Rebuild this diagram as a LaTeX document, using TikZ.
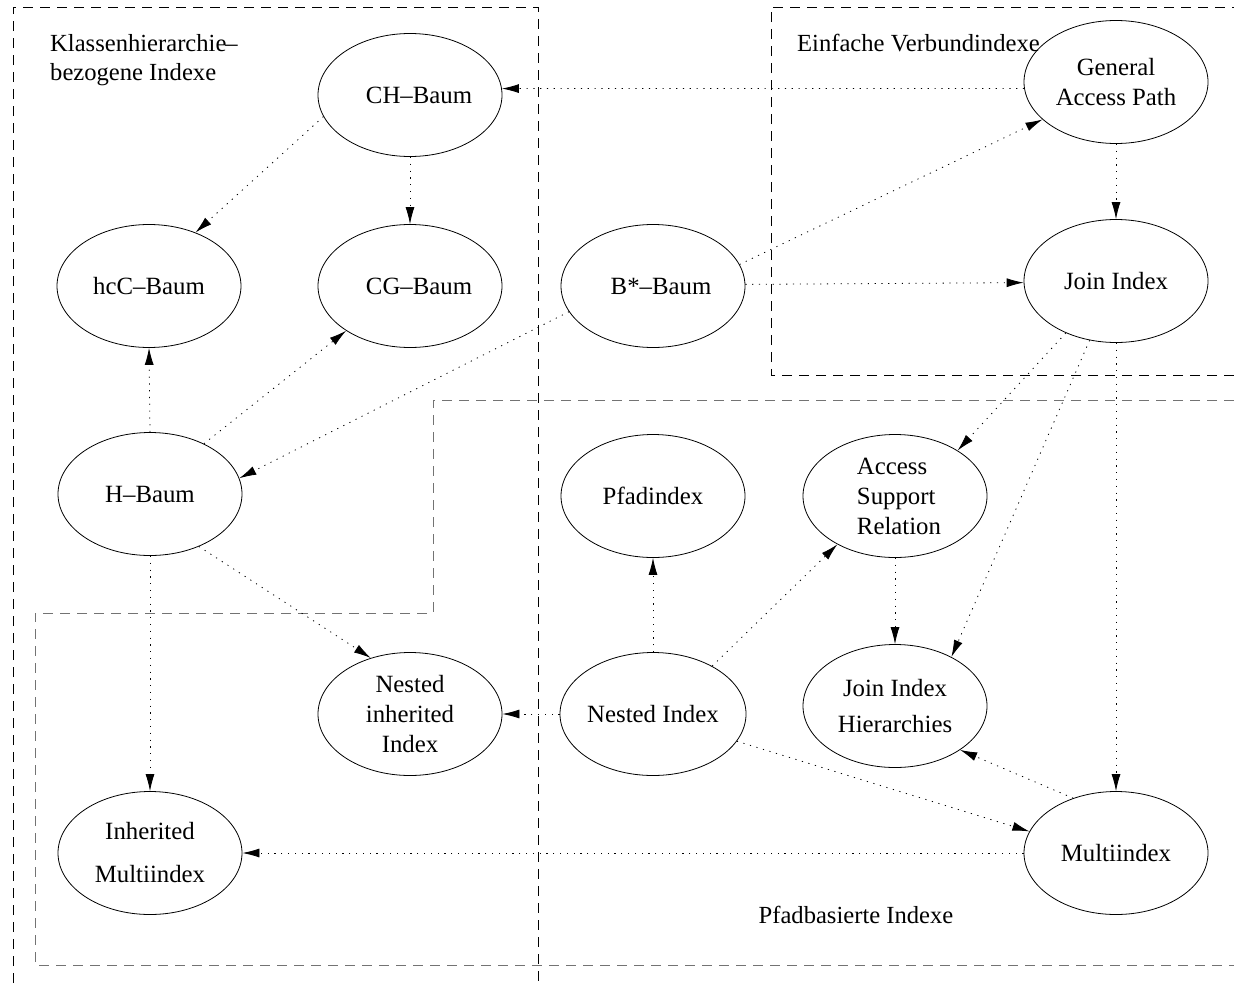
\documentclass[tikz,border=0pt]{standalone}
\usepackage{fontspec}
\setmainfont{Liberation Serif}
\usetikzlibrary{shapes.geometric,arrows.meta}
\begin{document}
\begin{tikzpicture}[x=1pt,y=-1pt,
  idx/.style={ellipse,draw,line width=0.8pt,minimum width=184pt,minimum height=123pt,
    inner sep=0pt,align=center,font=\fontsize{24.8}{30}\selectfont},
  rel/.style={line width=0.8pt,dash pattern=on 1.2pt off 5.6pt,
    -{Latex[length=17pt,width=9pt]}},
  region/.style={line width=0.8pt,dash pattern=on 10pt off 7pt},
  caption/.style={font=\fontsize{24.6}{29}\selectfont,inner sep=0pt,align=left}]
\useasboundingbox (0,0) rectangle (1234,983);

% index groups
\draw[region] (13,983) -- (13,7) -- (538,7) -- (538,983);
\draw[region] (1234,375) -- (771,375) -- (771,7) -- (1234,7);
\draw[region,black!55] (1234,400) -- (433,400) -- (433,613) -- (35,613) -- (35,965) -- (1234,965);

% group captions
\node[caption,anchor=west] (kcap) at (50,60) {Klassenhierarchie\kern-1pt–\\bezogene Indexe};
\node[caption,anchor=west] (vcap) at (797,43) {Einfache Verbundindexe};
\node[caption] (pcap) at (856,915) {Pfadbasierte Indexe};

% index structures
\node[idx] (ch)    at (410,95)  {\hspace*{18pt}CH–Baum};
\node[idx] (gap)   at (1116,82) {General\\Access Path};
\node[idx] (hcc)   at (149,286) {hcC–Baum};
\node[idx] (cg)    at (410,286) {\hspace*{18pt}CG–Baum};
\node[idx] (bstar) at (653,286) {\hspace*{16pt}B*–Baum};
\node[idx] (join)  at (1116,281) {Join Index};
\node[idx] (h)     at (150,494) {H–Baum};
\node[idx] (pfad)  at (653,496) {Pfadindex};
\node[idx,align=left] (asr) at (895,496) {\hspace*{8pt}Access\\\hspace*{8pt}Support\\\hspace*{8pt}Relation};
\node[idx] (nii)   at (410,714) {Nested\\inherited\\Index};
\node[idx] (ni)    at (653,714) {Nested Index};
\node[idx] (jih)   at (895,706) {Join Index\\[6pt]Hierarchies};
\node[idx] (im)    at (150,853) {Inherited\\[13pt]Multiindex};
\node[idx] (mi)    at (1116,853) {Multiindex};

% derivation relations
\draw[rel] (gap.184)   -- (ch.4);
\draw[rel] (ch.194)    -- (hcc.49);
\draw[rel] (ch.south)  -- (cg.north);
\draw[rel] (bstar.14)  -- (gap.207);
\draw[rel] (bstar.1)   -- (join.181);
\draw[rel] (gap.south) -- (join.north);
\draw[rel] (bstar.197) -- (h.10);
\draw[rel] (h.north)   -- (hcc.south);
\draw[rel] (h.43)      -- (cg.215);
\draw[rel] (h.313)     -- (nii.125);
\draw[rel] (h.south)   -- (im.north);
\draw[rel] (join.226)  -- (asr.36);
\draw[rel] (join.246)  -- (jih.41);
\draw[rel] (join.south) -- (mi.north);
\draw[rel] (asr.south) -- (jih.north);
\draw[rel] (ni.north)  -- (pfad.south);
\draw[rel] (ni.39)     -- (asr.220);
\draw[rel] (ni.west)   -- (nii.east);
\draw[rel] (ni.342)    -- (mi.166);
\draw[rel] (mi.128)    -- (jih.326);
\draw[rel] (mi.west)   -- (im.east);
\end{tikzpicture}
\end{document}
